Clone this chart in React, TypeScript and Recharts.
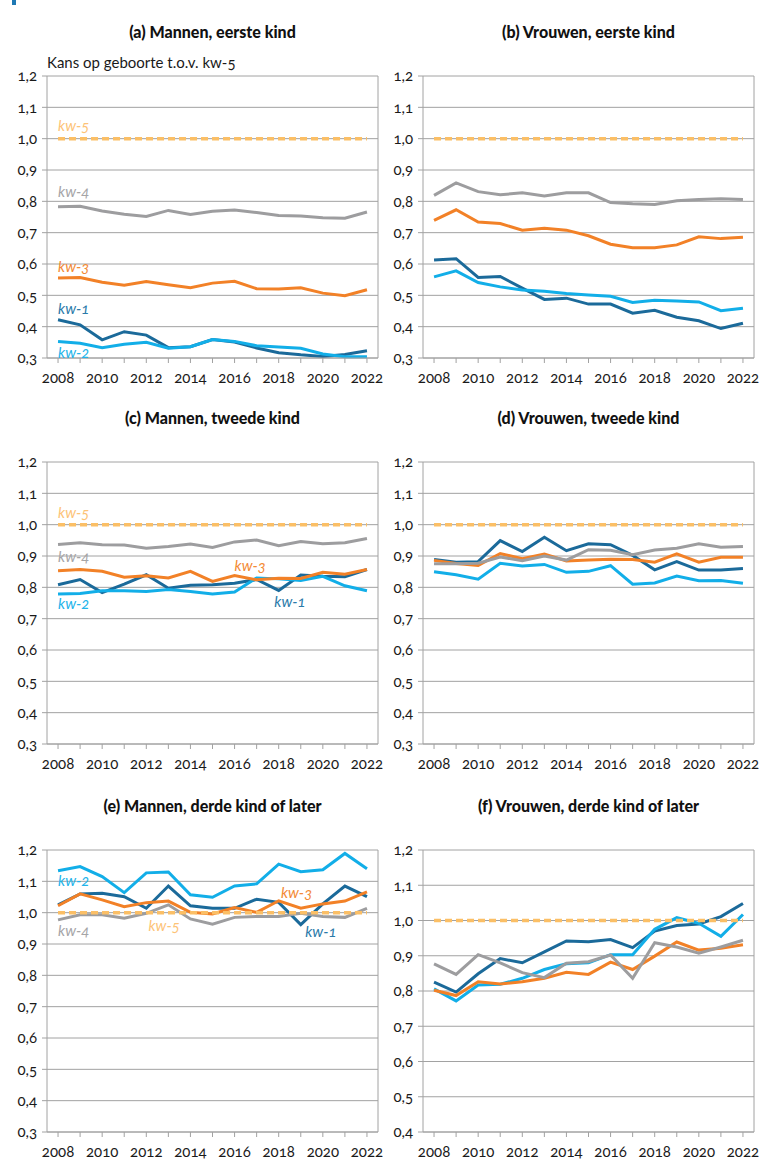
import React from "react";
import {
  LineChart,
  Line,
  XAxis,
  YAxis,
  CartesianGrid,
  ReferenceLine,
  ReferenceDot,
} from "recharts";

const YEARS = [2008, 2009, 2010, 2011, 2012, 2013, 2014, 2015, 2016, 2017, 2018, 2019, 2020, 2021, 2022];
const KW5 = 1.0;

const TICKS_A = [0.3, 0.4, 0.5, 0.6, 0.7, 0.8, 0.9, 1.0, 1.1, 1.2];
const TICKS_F = [0.4, 0.5, 0.6, 0.7, 0.8, 0.9, 1.0, 1.1, 1.2];

// (a) Mannen, eerste kind
const aKw1 = [0.422, 0.406, 0.358, 0.384, 0.373, 0.333, 0.336, 0.359, 0.351, 0.332, 0.317, 0.31, 0.305, 0.311, 0.323];
const aKw2 = [0.353, 0.347, 0.333, 0.344, 0.35, 0.331, 0.336, 0.359, 0.353, 0.339, 0.335, 0.331, 0.313, 0.304, 0.304];
const aKw3 = [0.555, 0.557, 0.542, 0.532, 0.544, 0.534, 0.524, 0.539, 0.545, 0.521, 0.52, 0.524, 0.507, 0.499, 0.518];
const aKw4 = [0.783, 0.784, 0.769, 0.759, 0.752, 0.771, 0.758, 0.768, 0.772, 0.764, 0.755, 0.753, 0.748, 0.746, 0.766];

// (b) Vrouwen, eerste kind
const bKw1 = [0.613, 0.617, 0.557, 0.56, 0.523, 0.487, 0.491, 0.472, 0.472, 0.443, 0.452, 0.43, 0.419, 0.394, 0.411];
const bKw2 = [0.559, 0.578, 0.541, 0.527, 0.517, 0.513, 0.506, 0.501, 0.497, 0.477, 0.484, 0.482, 0.479, 0.451, 0.459];
const bKw3 = [0.739, 0.773, 0.734, 0.729, 0.708, 0.714, 0.708, 0.69, 0.663, 0.652, 0.652, 0.661, 0.687, 0.681, 0.685];
const bKw4 = [0.819, 0.859, 0.831, 0.821, 0.827, 0.817, 0.827, 0.827, 0.796, 0.792, 0.79, 0.802, 0.806, 0.808, 0.806];

// (c) Mannen, tweede kind
const cKw1 = [0.808, 0.825, 0.783, 0.81, 0.84, 0.797, 0.807, 0.808, 0.813, 0.825, 0.79, 0.839, 0.835, 0.834, 0.857];
const cKw2 = [0.779, 0.78, 0.789, 0.789, 0.787, 0.793, 0.787, 0.779, 0.785, 0.83, 0.827, 0.822, 0.835, 0.805, 0.789];
const cKw3 = [0.853, 0.857, 0.851, 0.832, 0.837, 0.83, 0.851, 0.819, 0.838, 0.824, 0.829, 0.828, 0.848, 0.842, 0.857];
const cKw4 = [0.937, 0.942, 0.936, 0.935, 0.925, 0.93, 0.938, 0.927, 0.945, 0.951, 0.933, 0.946, 0.939, 0.942, 0.956];

// (d) Vrouwen, tweede kind
const dKw1 = [0.889, 0.88, 0.882, 0.949, 0.914, 0.96, 0.917, 0.939, 0.936, 0.902, 0.856, 0.882, 0.855, 0.855, 0.86];
const dKw2 = [0.85, 0.84, 0.826, 0.877, 0.868, 0.873, 0.848, 0.851, 0.869, 0.81, 0.814, 0.836, 0.821, 0.822, 0.813];
const dKw3 = [0.886, 0.876, 0.87, 0.908, 0.891, 0.906, 0.884, 0.887, 0.89, 0.889, 0.88, 0.907, 0.88, 0.896, 0.896];
const dKw4 = [0.875, 0.875, 0.877, 0.897, 0.885, 0.9, 0.887, 0.92, 0.918, 0.904, 0.919, 0.925, 0.939, 0.928, 0.93];

// (e) Mannen, derde kind of later
const eKw1 = [1.025, 1.06, 1.062, 1.051, 1.014, 1.085, 1.022, 1.014, 1.014, 1.043, 1.033, 0.962, 1.028, 1.085, 1.051];
const eKw2 = [1.134, 1.147, 1.115, 1.064, 1.127, 1.13, 1.057, 1.049, 1.085, 1.092, 1.155, 1.131, 1.137, 1.189, 1.14];
const eKw3 = [1.022, 1.06, 1.041, 1.019, 1.032, 1.037, 1.001, 0.996, 1.016, 1.001, 1.038, 1.014, 1.028, 1.037, 1.066];
const eKw4 = [0.977, 0.993, 0.993, 0.982, 0.998, 1.025, 0.98, 0.963, 0.985, 0.988, 0.988, 0.998, 0.988, 0.985, 1.014];

// (f) Vrouwen, derde kind of later
const fKw1 = [0.825, 0.797, 0.849, 0.892, 0.88, 0.911, 0.942, 0.94, 0.946, 0.923, 0.97, 0.986, 0.99, 1.011, 1.048];
const fKw2 = [0.806, 0.772, 0.817, 0.819, 0.836, 0.861, 0.877, 0.88, 0.903, 0.903, 0.975, 1.008, 0.992, 0.955, 1.017];
const fKw3 = [0.802, 0.787, 0.826, 0.82, 0.826, 0.836, 0.853, 0.847, 0.882, 0.861, 0.899, 0.939, 0.916, 0.921, 0.931];
const fKw4 = [0.877, 0.847, 0.903, 0.88, 0.852, 0.838, 0.879, 0.883, 0.902, 0.836, 0.937, 0.925, 0.907, 0.925, 0.944];

const COLORS: Record<string, string> = {
  kw1: "#1b6a9a",
  kw2: "#12aee8",
  kw3: "#f28127",
  kw4: "#9d9d9f",
  kw5: "#fbbf66",
};
const LABEL_COLORS: Record<string, string> = {
  kw1: "#2a7aa9",
  kw2: "#22b4ea",
  kw3: "#f38a35",
  kw4: "#a5a5a7",
  kw5: "#fdc377",
};

// label anchors (year, value) for the series names
const NOTES_A = [
  { key: "kw5", x: 2008, y: 1.04 },
  { key: "kw4", x: 2008, y: 0.83 },
  { key: "kw3", x: 2008, y: 0.591 },
  { key: "kw1", x: 2008, y: 0.456 },
  { key: "kw2", x: 2008, y: 0.318 },
];
const NOTES_C = [
  { key: "kw5", x: 2008, y: 1.038 },
  { key: "kw4", x: 2008, y: 0.898 },
  { key: "kw2", x: 2008, y: 0.747 },
  { key: "kw3", x: 2016, y: 0.87 },
  { key: "kw1", x: 2017.8, y: 0.755 },
];
const NOTES_E = [
  { key: "kw2", x: 2008, y: 1.101 },
  { key: "kw3", x: 2018.1, y: 1.064 },
  { key: "kw5", x: 2012.1, y: 0.959 },
  { key: "kw4", x: 2008, y: 0.942 },
  { key: "kw1", x: 2019.2, y: 0.94 },
];

const PANELS = [
  { title: "(a) Mannen, eerste kind", left: 0, top: 76, s: [aKw1, aKw2, aKw3, aKw4], ticks: TICKS_A, notes: NOTES_A },
  { title: "(b) Vrouwen, eerste kind", left: 376, top: 76, s: [bKw1, bKw2, bKw3, bKw4], ticks: TICKS_A, notes: [] },
  { title: "(c) Mannen, tweede kind", left: 0, top: 462, s: [cKw1, cKw2, cKw3, cKw4], ticks: TICKS_A, notes: NOTES_C },
  { title: "(d) Vrouwen, tweede kind", left: 376, top: 462, s: [dKw1, dKw2, dKw3, dKw4], ticks: TICKS_A, notes: [] },
  { title: "(e) Mannen, derde kind of later", left: 0, top: 850, s: [eKw1, eKw2, eKw3, eKw4], ticks: TICKS_A, notes: NOTES_E },
  { title: "(f) Vrouwen, derde kind of later", left: 376, top: 850, s: [fKw1, fKw2, fKw3, fKw4], ticks: TICKS_F, notes: [] },
];

const GRID = "#a2a2a2";
const FONT = "Lato, 'Open Sans', sans-serif";

function YearTick(props: any) {
  const { x, y, payload } = props;
  if (payload.value % 2 !== 0) return null;
  return (
    <text x={x} y={y} dy="0.71em" textAnchor="middle" fontSize={15} fill="#1a1a1a" fontFamily={FONT}>
      {payload.value}
    </text>
  );
}

function Panel({ p }: { p: (typeof PANELS)[number] }) {
  const data = YEARS.map((year, i) => ({
    year,
    kw1: p.s[0][i],
    kw2: p.s[1][i],
    kw3: p.s[2][i],
    kw4: p.s[3][i],
  }));
  const yMin = p.ticks[0];
  const yMax = p.ticks[p.ticks.length - 1];
  return (
    <>
      <div
        style={{
          position: "absolute",
          left: p.left + 47,
          width: 331,
          top: p.top - 54,
          textAlign: "center",
          fontWeight: 900,
          fontSize: 16,
          color: "#111",
          lineHeight: "20px",
        }}
      >
        {p.title}
      </div>
      <div style={{ position: "absolute", left: p.left, top: p.top - 10 }}>
        <LineChart width={394} height={322} data={data} margin={{ top: 10, right: 16, bottom: 0, left: 0 }}>
          <CartesianGrid
            stroke={GRID}
            strokeWidth={1}
            verticalCoordinatesGenerator={({ offset }: any) => [offset.left + offset.width]}
          />
          <XAxis
            dataKey="year"
            type="number"
            domain={[2007.5, 2022.5]}
            ticks={YEARS}
            interval={0}
            height={30}
            tickSize={5}
            tickMargin={9}
            stroke={GRID}
            tick={<YearTick />}
          />
          <YAxis
            type="number"
            domain={[yMin, yMax]}
            ticks={p.ticks}
            interval={0}
            width={47}
            tickSize={5}
            tickMargin={5}
            stroke={GRID}
            tickFormatter={(v: number) => v.toFixed(1).replace(".", ",")}
            tick={{ fontSize: 15, fill: "#1a1a1a", fontFamily: FONT }}
          />
          <Line dataKey="kw1" stroke={COLORS.kw1} strokeWidth={3} dot={false} isAnimationActive={false} />
          <Line dataKey="kw2" stroke={COLORS.kw2} strokeWidth={3} dot={false} isAnimationActive={false} />
          <Line dataKey="kw3" stroke={COLORS.kw3} strokeWidth={3} dot={false} isAnimationActive={false} />
          <Line dataKey="kw4" stroke={COLORS.kw4} strokeWidth={3} dot={false} isAnimationActive={false} />
          <ReferenceLine
            segment={[
              { x: YEARS[0], y: KW5 },
              { x: YEARS[YEARS.length - 1], y: KW5 },
            ]}
            stroke={COLORS.kw5}
            strokeWidth={3.5}
            strokeDasharray="7 4"
          />
          {p.notes.map((n) => (
            <ReferenceDot
              key={n.key}
              x={n.x}
              y={n.y}
              r={0}
              stroke="none"
              fill="none"
              label={{
                value: n.key.replace("kw", "kw-"),
                position: "right",
                offset: 0,
                fill: LABEL_COLORS[n.key],
                fontSize: 15,
                fontStyle: "italic",
                fontFamily: FONT,
              }}
            />
          ))}
        </LineChart>
      </div>
    </>
  );
}

export default function App() {
  return (
    <div
      style={{
        position: "absolute",
        left: 0,
        top: 0,
        width: 764,
        height: 1160,
        overflow: "hidden",
        background: "#fff",
        fontFamily: FONT,
        fontVariantNumeric: "oldstyle-nums",
      }}
    >
      <div style={{ position: "absolute", left: 12, top: 0, width: 4, height: 5, background: "#1f79b4" }} />
      <div style={{ position: "absolute", left: 47, top: 52, fontSize: 15, color: "#1a1a1a", lineHeight: "20px" }}>
        Kans op geboorte t.o.v. kw-5
      </div>
      {PANELS.map((p) => (
        <Panel key={p.title} p={p} />
      ))}
    </div>
  );
}
